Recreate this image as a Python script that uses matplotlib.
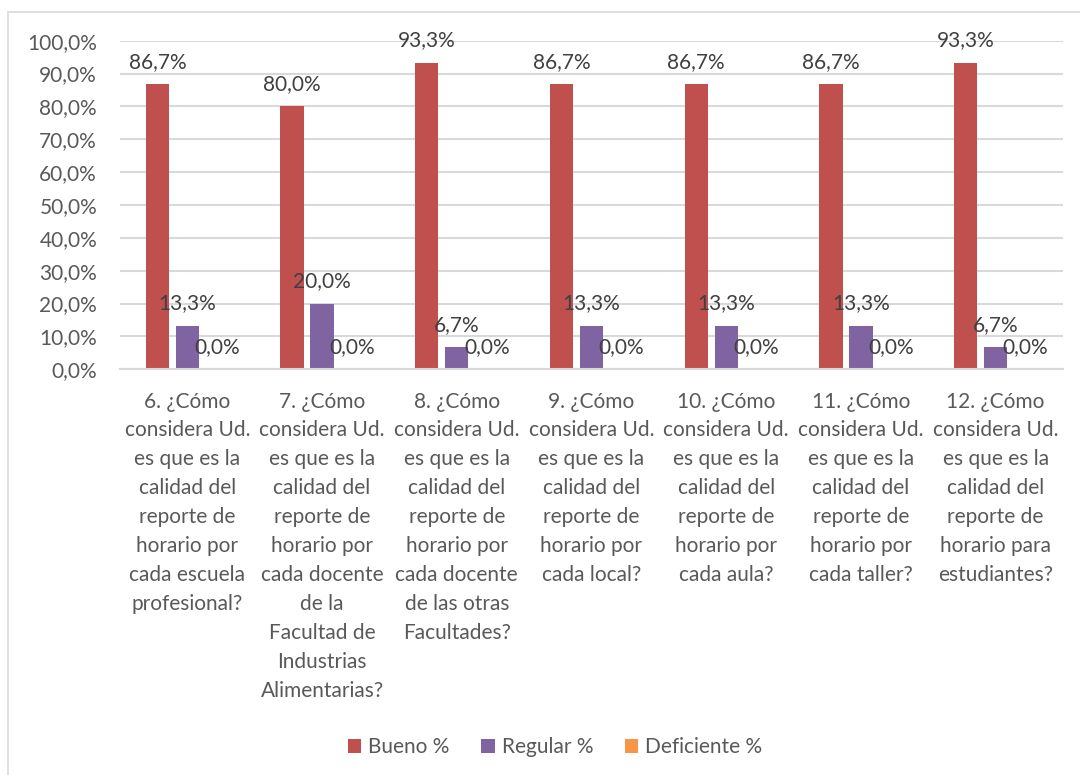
import numpy as np
import matplotlib.pyplot as plt
from matplotlib.patches import Rectangle

plt.rcParams['font.family'] = ['Lato', 'DejaVu Sans']

categories = [
    "6. ¿Cómo\nconsidera Ud.\nes que es la\ncalidad del\nreporte de\nhorario por\ncada escuela\nprofesional?",
    "7. ¿Cómo\nconsidera Ud.\nes que es la\ncalidad del\nreporte de\nhorario por\ncada docente\nde la\nFacultad de\nIndustrias\nAlimentarias?",
    "8. ¿Cómo\nconsidera Ud.\nes que es la\ncalidad del\nreporte de\nhorario por\ncada docente\nde las otras\nFacultades?",
    "9. ¿Cómo\nconsidera Ud.\nes que es la\ncalidad del\nreporte de\nhorario por\ncada local?",
    "10. ¿Cómo\nconsidera Ud.\nes que es la\ncalidad del\nreporte de\nhorario por\ncada aula?",
    "11. ¿Cómo\nconsidera Ud.\nes que es la\ncalidad del\nreporte de\nhorario por\ncada taller?",
    "12. ¿Cómo\nconsidera Ud.\nes que es la\ncalidad del\nreporte de\nhorario para\nestudiantes?",
]
bueno = [86.7, 80.0, 93.3, 86.7, 86.7, 86.7, 93.3]
regular = [13.3, 20.0, 6.7, 13.3, 13.3, 13.3, 6.7]
deficiente = [0.0, 0.0, 0.0, 0.0, 0.0, 0.0, 0.0]

series = [("Bueno %", bueno, "#C0504D"),
          ("Regular %", regular, "#8064A2"),
          ("Deficiente %", deficiente, "#F79646")]

text_color = "#595959"
fs = 15

fig = plt.figure(figsize=(10.8, 7.75), dpi=100)
fig.patches.append(Rectangle((8 / 1080, -0.1), 1.2, 1 - 12 / 775 + 0.1,
                             transform=fig.transFigure, fill=False,
                             edgecolor="#D9D9D9", linewidth=1.2))
ax = fig.add_axes([120 / 1080, 1 - 369.3 / 775, (1063 - 120) / 1080, (369.3 - 40.7) / 775])

x = np.arange(len(categories))
width = 0.173
step = 0.223
for i, (name, vals, color) in enumerate(series):
    pos = x + (i - 1) * step
    ax.bar(pos, vals, width, color=color, label=name, zorder=2)
    for px, v in zip(pos, vals):
        ax.annotate(f"{v:.1f}%".replace(".", ","), (px, v), xytext=(0, 9),
                    textcoords="offset points", ha="center", va="bottom",
                    fontsize=fs, color="#404040", zorder=3)

ax.set_xlim(-0.5, len(categories) - 0.5)
ax.set_ylim(0, 100)
yt = np.arange(0, 101, 10)
ax.set_yticks(yt)
ax.set_yticklabels([f"{t:.1f}%".replace(".", ",") for t in yt], fontsize=fs, color=text_color)
ax.set_xticks(x)
ax.set_xticklabels(categories, fontsize=fs, color=text_color, linespacing=1.56)
ax.tick_params(axis="both", length=0)
ax.tick_params(axis="y", pad=16.5)
ax.tick_params(axis="x", pad=16)
ax.grid(axis="y", color="#D9D9D9", linewidth=1.5, zorder=0)
for s in ["top", "right", "left"]:
    ax.spines[s].set_visible(False)
ax.spines["bottom"].set_color("#D9D9D9")
ax.spines["bottom"].set_linewidth(1.5)

leg = fig.legend(loc="center", bbox_to_anchor=(555 / 1080, 1 - 747 / 775), ncol=3,
                 frameon=False, fontsize=fs, handlelength=0.65, handleheight=0.65,
                 handletextpad=0.35, columnspacing=1.5)
for t in leg.get_texts():
    t.set_color(text_color)

fig.savefig("out.png", dpi=100)
